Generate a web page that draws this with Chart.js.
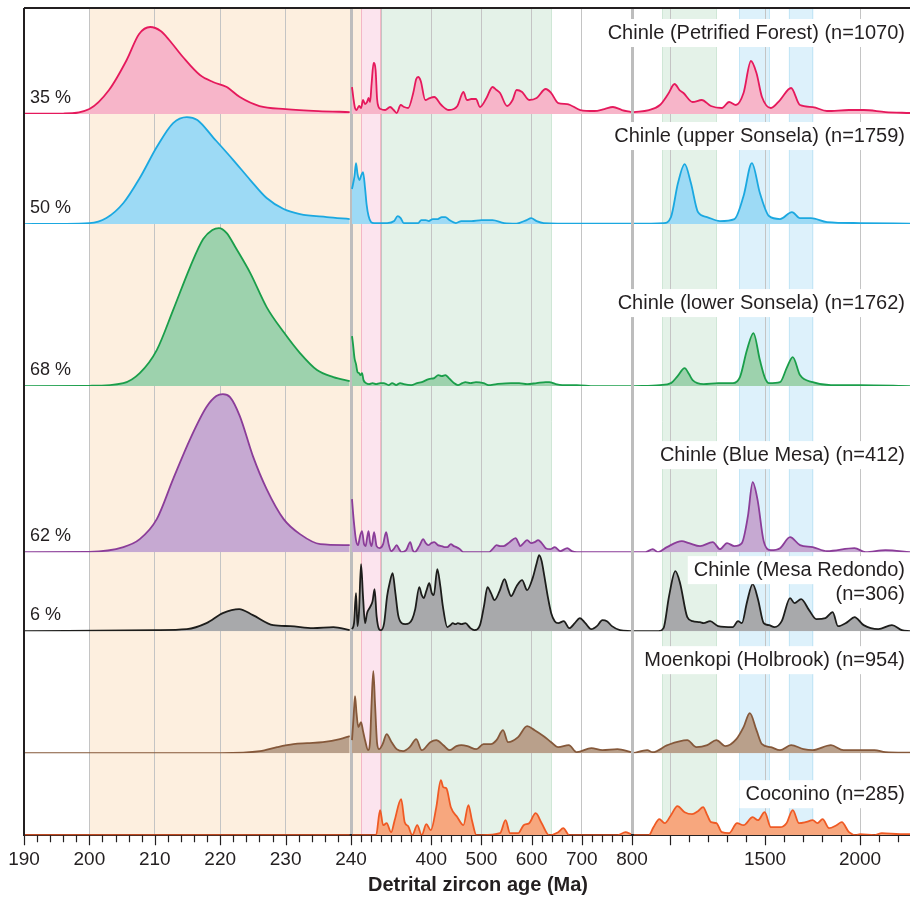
<!DOCTYPE html>
<html>
<head>
<meta charset="utf-8">
<script src="https://cdn.jsdelivr.net/npm/chart.js@4.4.1/dist/chart.umd.min.js"></script>
<style>
  html, body { margin: 0; padding: 0; background: #fff; }
  #wrap { width: 910px; height: 901px; }
</style>
</head>
<body>
<div id="wrap"><canvas id="chart"></canvas></div>
<script>
'use strict';

// broken age axis: 190–240, 240–800, 800–end, each with its own stretch
const AXIS_BREAKS = [190, 240, 800, 2263];
const AXIS_SPANS  = [327, 281, 278];

// tick labels and vertical guides
const LABELED_AGES = [190, 200, 210, 220, 230, 240, 400, 500, 600, 700, 800, 1500, 2000];
const LONG_TICK_AGES = [...LABELED_AGES, 1000];
const GRID_AGES  = [200, 210, 220, 230, 300, 400, 500, 600, 700, 1000, 1500, 2000];
const BREAK_AGES = [240, 800];

// shaded age bands
const BAND_RANGES = [[200, 260], [260, 300], [300, 640], [960, 1245], [1365, 1525], [1625, 1755]];
const BAND_COLORS = ['#fdefdf', '#fce4ee', '#e4f2e8', '#e4f2e8', '#ddf1fb', '#ddf1fb'];
const BAND_EDGES  = ['#fdefdf', '#f4b6c6', '#cfe7d6', '#cfe7d6', '#c4e6f6', '#c4e6f6'];

// sample rows, top to bottom
const ROW_NAMES = [
  'Chinle (Petrified Forest) (n=1070)',
  'Chinle (upper Sonsela) (n=1759)',
  'Chinle (lower Sonsela) (n=1762)',
  'Chinle (Blue Mesa) (n=412)',
  ['Chinle (Mesa Redondo)', '(n=306)'],
  'Moenkopi (Holbrook) (n=954)',
  'Coconino (n=285)',
];
const ROW_SHARE = ['35 %', '50 %', '68 %', '62 %', '6 %', '', ''];
const ROW_SPAN  = [106, 110, 162, 166, 79, 122, 82];

// density curves as [age Ma, relative density]; null splits the axis segments
const petrifiedForest = [
  [190, 0.3], [196, 0.5], [200, 5], [203, 24], [205.7, 54], [207.6, 80], [209.3, 87], [210.9, 83], [212.2, 74],
  [214.3, 57], [216.9, 39], [218.9, 32], [221, 27], [223, 17], [226, 8], [230, 5], [235, 3], [239.8, 2],
  [240, null],
  [242, 27], [245, 15], [248, 6], [251, 4], [256, 8], [260, 6], [264, 14], [268, 10], [272, 12], [275, 16],
  [278, 12], [281, 30], [285, 51], [289, 44], [292, 15], [295, 7], [299, 5], [308, 4], [318, 7], [325, 4],
  [331, 1], [339, 9], [346, 7], [354, 6], [364, 21], [370, 35], [374, 37], [379, 33], [388, 14], [397, 16],
  [406, 17], [420, 9], [435, 4], [452, 8], [464, 22], [471, 14], [480, 15], [489, 15], [497, 7], [510, 16],
  [522, 27], [530, 24], [537, 21], [551, 8], [562, 14], [570, 24], [581, 22], [595, 14], [610, 16], [628, 25],
  [639, 21], [653, 11], [671, 10], [697, 4], [725, 3], [745, 5], [762, 7], [780, 4], [798, 2],
  [800, null],
  [810, 2], [889, 4], [947, 9], [990, 20], [1024, 30], [1050, 24], [1071, 21], [1119, 12], [1167, 14],
  [1215, 8], [1273, 6], [1311, 12], [1347, 9], [1387, 21], [1426, 53], [1455, 41], [1484, 17], [1531, 6],
  [1579, 14], [1637, 26], [1684, 9], [1751, 7], [1826, 3], [1942, 4], [2019, 4], [2134, 2], [2263, 1],
];

const upperSonsela = [
  [190, 0], [200, 1], [202.6, 6], [205.2, 21], [207.7, 46], [210.3, 77], [212.8, 101], [214.9, 107],
  [216.5, 104], [219, 86], [222, 64], [224.6, 44], [227.1, 26], [229.7, 15], [232.2, 10], [236.3, 7], [239.8, 5],
  [240, null],
  [242, 35], [247, 48], [250, 61], [253, 50], [257, 44], [260, 48], [264, 52], [268, 36], [271, 20], [275, 8],
  [280, 2], [286, 1], [312, 1], [326, 3], [333, 8], [339, 6], [345, 1], [360, 1], [374, 1], [380, 4], [389, 4],
  [395, 3], [403, 5], [413, 5], [421, 7], [428, 7], [436, 4], [449, 1], [460, 3], [480, 3], [500, 4], [522, 4],
  [545, 1], [570, 0.5], [590, 4], [599, 6], [610, 3], [624, 1], [690, 0.3], [798, 0.3],
  [800, null],
  [810, 0.3], [966, 1], [1005, 7], [1042, 41], [1077, 60], [1110, 41], [1147, 12], [1195, 7], [1263, 3],
  [1339, 5], [1387, 28], [1431, 61], [1473, 31], [1521, 8], [1579, 5], [1642, 12], [1684, 6], [1742, 6],
  [1826, 2], [2000, 1], [2263, 0.5],
];

const lowerSonsela = [
  [190, 0], [200, 0.3], [205.2, 3], [207.7, 13], [210.3, 36], [212.8, 76], [215.4, 119], [217.4, 147],
  [218.8, 156], [219.8, 158], [221, 153], [222.4, 138], [224.6, 113], [227.1, 79], [229.7, 54], [232.2, 33],
  [234.8, 16], [237.3, 9], [239.8, 5],
  [240, null],
  [242, 50], [244, 42], [247, 28], [250, 22], [253, 14], [256, 13], [259, 11], [262, 13], [265, 6], [270, 3],
  [276, 2], [283, 3], [290, 2], [298, 3], [305, 3], [315, 1], [322, 3], [330, 1], [338, 3], [345, 2], [360, 1],
  [372, 3], [381, 4], [395, 7], [406, 8], [414, 11], [421, 10], [428, 11], [435, 8], [445, 3], [453, 1],
  [462, 3], [468, 4], [478, 3], [489, 4], [504, 3], [514, 1], [530, 2], [559, 3], [575, 3], [591, 2], [610, 3],
  [628, 4], [635, 4], [648, 2], [661, 1], [690, 1], [725, 0], [798, 0],
  [800, null],
  [810, 0], [947, 1], [1005, 3], [1040, 10], [1077, 18], [1100, 12], [1119, 6], [1177, 2], [1253, 3],
  [1332, 3], [1368, 9], [1405, 36], [1439, 53], [1473, 26], [1500, 8], [1521, 3], [1579, 4], [1616, 19],
  [1646, 29], [1684, 11], [1751, 4], [1847, 1], [2000, 1], [2263, 0],
];

const blueMesa = [
  [190, 0], [200, 0.3], [205.2, 5], [207.7, 13], [210.3, 33], [212.8, 73], [215.4, 113], [217.9, 145],
  [219.4, 156], [220.4, 158], [221.5, 155], [223, 136], [225, 96], [227.1, 63], [229.7, 33], [232.2, 18],
  [235.3, 8], [239.8, 7],
  [240, null],
  [242, 53], [244, 40], [246, 29], [250, 12], [254, 7], [258, 16], [262, 21], [266, 8], [269, 6], [272, 14],
  [275, 21], [278, 10], [281, 6], [286, 20], [291, 6], [297, 4], [304, 8], [310, 20], [315, 8], [320, 1],
  [325, 3], [331, 7], [336, 3], [341, 0], [350, 2], [358, 10], [363, 2], [367, 0], [376, 6], [384, 13],
  [389, 9], [394, 7], [400, 9], [406, 10], [413, 7], [421, 6], [428, 5], [432, 5], [439, 8], [445, 6],
  [450, 5], [457, 3], [464, 0], [515, 0], [522, 3], [530, 7], [537, 6], [544, 6], [556, 10], [568, 14],
  [574, 9], [577, 6], [584, 9], [591, 12], [599, 9], [606, 10], [613, 12], [620, 9], [628, 4], [637, 3],
  [646, 5], [657, 1], [671, 4], [680, 1], [690, 0], [798, 0],
  [800, null],
  [810, 0], [871, 0], [909, 3], [937, 0], [984, 5], [1062, 11], [1100, 9], [1158, 6], [1225, 10], [1263, 3],
  [1300, 9], [1339, 6], [1378, 9], [1410, 36], [1435, 70], [1461, 52], [1493, 11], [1531, 2], [1579, 4],
  [1632, 15], [1684, 7], [1751, 5], [1826, 1], [1971, 4], [2029, 0], [2134, 2], [2263, 0],
];

const mesaRedondo = [
  [190, 0], [210, 1], [214.9, 2], [217.9, 8], [220.4, 18], [222.9, 22], [225, 16], [228.1, 6], [230.7, 5],
  [234.2, 3], [237.3, 4], [239.8, 1],
  [240, null],
  [242, 2], [246, 8], [250, 38], [253, 5], [256, 20], [260, 67], [264, 34], [268, 8], [272, 18], [278, 24],
  [283, 30], [287, 42], [291, 15], [296, 2], [300, 1], [306, 8], [312, 35], [317, 48], [323, 58], [328, 40],
  [334, 16], [341, 8], [348, 7], [356, 8], [362, 12], [368, 22], [376, 44], [381, 36], [385, 33], [390, 40],
  [396, 48], [401, 38], [405, 36], [412, 62], [418, 45], [423, 25], [432, 4], [438, 6], [443, 8], [448, 7],
  [453, 8], [460, 7], [468, 8], [478, 3], [486, 1], [497, 6], [505, 25], [512, 44], [519, 38], [526, 31],
  [536, 40], [546, 52], [553, 42], [559, 35], [570, 45], [581, 51], [591, 41], [602, 53], [610, 68], [615, 76],
  [620, 70], [624, 59], [632, 35], [639, 18], [646, 10], [653, 8], [664, 10], [675, 3], [686, 8], [696, 13],
  [707, 8], [719, 2], [730, 5], [741, 11], [750, 10], [760, 5], [776, 1], [798, 0],
  [800, null],
  [810, 0], [940, 0], [966, 3], [995, 35], [1028, 60], [1053, 48], [1091, 14], [1119, 10], [1158, 9],
  [1177, 8], [1211, 10], [1253, 5], [1330, 4], [1358, 10], [1378, 8], [1405, 29], [1435, 47], [1463, 32],
  [1493, 8], [1521, 6], [1550, 4], [1588, 10], [1632, 33], [1655, 28], [1690, 32], [1732, 21], [1770, 12],
  [1818, 13], [1856, 19], [1884, 5], [1933, 9], [1971, 14], [2019, 6], [2096, 2], [2168, 6], [2220, 1], [2263, 0],
];

const moenkopi = [
  [190, 0], [220, 0], [226.1, 2], [228.7, 6], [231.2, 9], [233.3, 10], [235.7, 11], [238.3, 14], [239.8, 17],
  [240, null],
  [242, 13], [245, 35], [248, 57], [251, 40], [254.6, 26], [260, 31], [264, 22], [268, 13], [274, 3], [278, 12],
  [281, 50], [284.5, 82], [288, 48], [292, 10], [296, 4], [303, 9], [311, 19], [321, 11], [331, 4], [344, 2],
  [357, 6], [370, 14], [381, 3], [398, 11], [410, 13], [424, 8], [437, 3], [450, 7], [460, 8], [472, 7],
  [490, 4], [504, 9], [519, 9], [530, 13], [543, 23], [553, 11], [573, 16], [591, 27], [606, 23], [624, 17],
  [639, 11], [653, 6], [674, 8], [690, 1], [719, 5], [741, 3], [771, 4], [798, 1],
  [800, null],
  [810, 0.3], [880, 3], [909, 1], [986, 8], [1091, 13], [1139, 6], [1196, 8], [1244, 13], [1292, 7],
  [1349, 14], [1387, 26], [1420, 40], [1455, 23], [1484, 9], [1531, 6], [1579, 3], [1637, 8], [1703, 4],
  [1751, 3], [1847, 8], [1913, 3], [2000, 3], [2076, 3], [2134, 1], [2263, 0.5],
];

const coconino = [
  [190, 0], [239.8, 0],
  [240, null],
  [242, 0], [290, 0], [298, 25], [304, 10], [311, 12], [320, 3], [327, 15], [340, 36], [347, 13], [354, 9],
  [362, 0], [372, 10], [381, 0], [390, 11], [399, 5], [410, 28], [419, 55], [424, 48], [430, 47], [439, 28],
  [452, 18], [464, 10], [474, 30], [481, 15], [490, 0], [501, 0], [537, 2], [548, 15], [557, 2], [573, 2],
  [584, 10], [595, 12], [608, 22], [620, 12], [635, 0], [653, 3], [663, 7], [675, 0], [771, 0], [787, 3], [798, 1],
  [800, null],
  [810, 0], [889, 0], [913, 8], [944, 16], [972, 12], [1005, 20], [1039, 29], [1077, 23], [1116, 21],
  [1147, 24], [1174, 28], [1196, 20], [1216, 13], [1244, 12], [1273, 3], [1311, 2], [1353, 12], [1387, 10],
  [1435, 18], [1463, 15], [1498, 23], [1531, 8], [1579, 8], [1613, 12], [1646, 25], [1679, 12], [1713, 13],
  [1751, 15], [1776, 12], [1803, 16], [1837, 7], [1876, 10], [1904, 13], [1942, 3], [1981, 0], [2000, 1],
  [2076, 0], [2115, 2], [2210, 1], [2263, 1],
];

const ROW_SERIES = [petrifiedForest, upperSonsela, lowerSonsela, blueMesa, mesaRedondo, moenkopi, coconino];
const ROW_LINE = ['#e5195c', '#1ba8e0', '#1a9e4a', '#8b3d99', '#1d1d1b', '#85583a', '#ef5a24'];
const ROW_FILL = ['#f7b5c9', '#9ddaf5', '#9dd2ad', '#c6a9d2', '#a8a9ab', '#b9a08b', '#f7a77e'];

const FONT = '"Liberation Sans", Arial, Helvetica, sans-serif';
const INK  = '#231f20';

// age -> position on the linear helper axis
function toAxis(age) {
  let offset = 0;
  for (let i = 0; i < AXIS_SPANS.length; i++) {
    const a0 = AXIS_BREAKS[i], a1 = AXIS_BREAKS[i + 1];
    if (age <= a1 || i === AXIS_SPANS.length - 1) {
      return offset + (age - a0) / (a1 - a0) * AXIS_SPANS[i];
    }
    offset += AXIS_SPANS[i];
  }
  return offset;
}

const AXIS_TOTAL = AXIS_SPANS.reduce((s, v) => s + v, 0);

// minor ticks: every 2 Ma, then every 20 Ma, then every 100 Ma
const TICK_AGES = [];
for (let a = 190; a <= 240; a += 2) TICK_AGES.push(a);
for (let a = 260; a <= 800; a += 20) TICK_AGES.push(a);
for (let a = 1000; a <= 2200; a += 100) TICK_AGES.push(a);

// background age bands
const bandsPlugin = {
  id: 'ageBands',
  beforeDraw(chart) {
    const { ctx, chartArea: { top, bottom } } = chart;
    const xs = chart.scales.x;
    ctx.save();
    BAND_RANGES.forEach(([a0, a1], i) => {
      const x0 = xs.getPixelForValue(toAxis(a0));
      const x1 = xs.getPixelForValue(toAxis(a1));
      ctx.fillStyle = BAND_COLORS[i];
      ctx.fillRect(x0, top, x1 - x0, bottom - top);
      ctx.strokeStyle = BAND_EDGES[i];
      ctx.lineWidth = 1;
      ctx.beginPath();
      ctx.moveTo(Math.round(x0) + 0.5, top); ctx.lineTo(Math.round(x0) + 0.5, bottom);
      ctx.moveTo(Math.round(x1) - 0.5, top); ctx.lineTo(Math.round(x1) - 0.5, bottom);
      ctx.stroke();
    });
    ctx.restore();
  },
};

// sample names (with white backing) and Triassic share labels
const rowLabelPlugin = {
  id: 'rowLabels',
  afterDatasetsDraw(chart, args, opts) {
    const { ctx, chartArea: { left, right } } = chart;
    ctx.save();
    ROW_NAMES.forEach((name, i) => {
      const ys = chart.scales['y' + i];
      const lines = Array.isArray(name) ? name : [name];
      ctx.font = `${opts.nameSize}px ${FONT}`;
      ctx.textAlign = 'right';
      ctx.textBaseline = 'middle';
      lines.forEach((line, k) => {
        const y = ys.getPixelForValue(opts.levels[i]) + k * opts.lineGap;
        const w = ctx.measureText(line).width;
        ctx.fillStyle = '#ffffff';
        ctx.fillRect(right - 5 - w - 6, y - 14, w + 11, 28);
        ctx.fillStyle = INK;
        ctx.fillText(line, right - 5, y);
      });

      if (ROW_SHARE[i]) {
        ctx.font = `${opts.shareSize}px ${FONT}`;
        ctx.textAlign = 'left';
        ctx.fillStyle = INK;
        ctx.fillText(ROW_SHARE[i], left + 6, ys.bottom - 16);
      }
    });
    ctx.restore();
  },
};

// frame, tick marks and axis title
const framePlugin = {
  id: 'frame',
  afterDraw(chart) {
    const { ctx, chartArea: { left, right, top, bottom } } = chart;
    const xs = chart.scales.x;
    ctx.save();
    ctx.strokeStyle = INK;
    ctx.lineWidth = 2;
    ctx.beginPath();
    ctx.moveTo(left, top); ctx.lineTo(right, top);
    ctx.moveTo(left, top); ctx.lineTo(left, bottom);
    ctx.stroke();

    ctx.lineWidth = 1.2;
    ctx.beginPath();
    TICK_AGES.forEach(a => {
      const x = Math.round(xs.getPixelForValue(toAxis(a))) + 0.5;
      const len = LONG_TICK_AGES.includes(a) ? 10 : 7;
      ctx.moveTo(x, bottom); ctx.lineTo(x, bottom + len);
    });
    ctx.stroke();

    ctx.font = `bold 20px ${FONT}`;
    ctx.fillStyle = INK;
    ctx.textAlign = 'center';
    ctx.textBaseline = 'middle';
    ctx.fillText('Detrital zircon age (Ma)', (left + right) / 2 + 11, 885);
    ctx.restore();
  },
};

const yScales = {};
ROW_SPAN.forEach((span, i) => {
  yScales['y' + i] = {
    type: 'linear',
    display: false,
    position: 'left',
    stack: 'rows',
    stackWeight: span,
    weight: ROW_SPAN.length - i,
    offset: false,
    min: 0,
    max: span,
  };
});

const datasets = ROW_SERIES.map((series, i) => ({
  label: Array.isArray(ROW_NAMES[i]) ? ROW_NAMES[i].join(' ') : ROW_NAMES[i],
  data: series.map(([age, v]) => ({ x: toAxis(age), y: v })),
  yAxisID: 'y' + i,
  borderColor: ROW_LINE[i],
  backgroundColor: ROW_FILL[i],
  borderWidth: 1.8,
  fill: 'origin',
  tension: 0.4,
  cubicInterpolationMode: 'monotone',
  pointRadius: 0,
  spanGaps: false,
}));

new Chart(document.getElementById('chart'), {
  type: 'line',
  plugins: [bandsPlugin, rowLabelPlugin, framePlugin],
  data: { datasets },
  options: {
    responsive: true,
    maintainAspectRatio: false,
    animation: false,
    devicePixelRatio: 1,
    layout: { padding: { left: 24, right: 0, top: 8, bottom: 27 } },
    scales: {
      x: {
        type: 'linear',
        min: 0,
        max: AXIS_TOTAL,
        offset: false,
        afterBuildTicks(scale) {
          scale.ticks = TICK_AGES.map(a => ({ value: toAxis(a), age: a }));
        },
        ticks: {
          autoSkip: false,
          maxRotation: 0,
          minRotation: 0,
          padding: 3,
          color: INK,
          font: { family: FONT, size: 19 },
          callback(value, index, ticks) {
            const a = ticks[index] && ticks[index].age;
            return LABELED_AGES.includes(a) ? String(a) : '';
          },
        },
        grid: {
          drawTicks: true,
          tickLength: 10,
          tickColor: 'rgba(0,0,0,0)',
          color(c) {
            const a = c.tick && c.tick.age;
            if (BREAK_AGES.includes(a)) return '#bdbdbd';
            return GRID_AGES.includes(a) ? '#c4c4c4' : 'rgba(0,0,0,0)';
          },
          lineWidth(c) {
            const a = c.tick && c.tick.age;
            return BREAK_AGES.includes(a) ? 3 : 1;
          },
        },
        border: { display: true, color: INK, width: 2 },
      },
      ...yScales,
    },
    plugins: {
      legend: { display: false },
      tooltip: { enabled: false },
      rowLabels: {
        nameSize: 20,
        shareSize: 18,
        lineGap: 24,
        levels: [81, 88, 83, 97, 61, 93, 41],
      },
    },
  },
});
</script>
</body>
</html>
